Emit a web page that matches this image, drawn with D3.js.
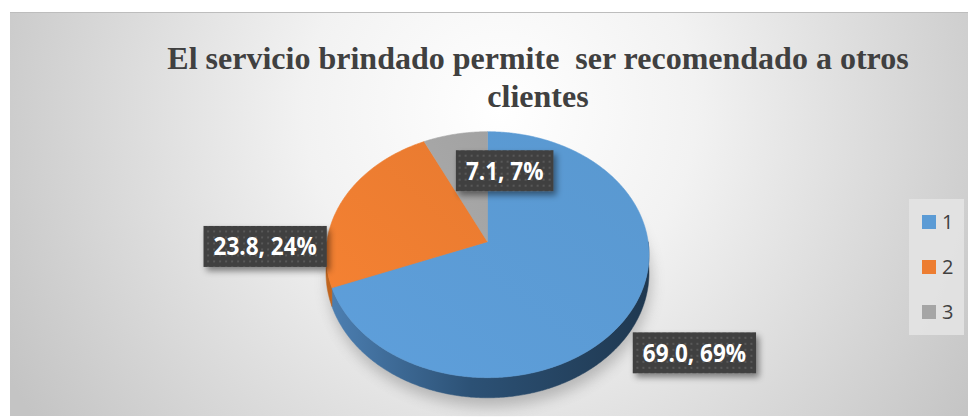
<!DOCTYPE html>
<html>
<head>
<meta charset="utf-8">
<script src="https://cdn.jsdelivr.net/npm/d3@7"></script>
<style>
  html, body { margin: 0; padding: 0; background: #fff; }
  svg { display: block; }
</style>
</head>
<body>
<svg id="chart" width="968" height="417"></svg>
<script>
// data
const categories = ['1', '2', '3'];
const values = [69.0, 23.8, 7.1];
const colors = ['#5B9BD5', '#ED7D31', '#A5A5A5'];
const titleLines = ['El servicio brindado permite  ser recomendado a otros', 'clientes'];

const W = 968, H = 417;
const svg = d3.select('#chart');
const defs = svg.append('defs');

// perspective of the 3d pie
const cx = 487.5, cy = 241.7;
const s = 160.6, se = 121.6, k = 0.1056, depth = 18;

function proj(theta, r, drop) {
    let u = r * Math.sin(theta);
    let v = -r * Math.cos(theta);
    let w = 1 - k * v;
    return [cx + s * u / w, cy + se * v / w + (drop || 0) / w];
}

// background
let bg = defs.append('radialGradient')
    .attr('id', 'bg')
    .attr('gradientUnits', 'userSpaceOnUse')
    .attr('cx', 500).attr('cy', 110).attr('r', 560);
bg.append('stop').attr('offset', '0').attr('stop-color', '#ffffff');
bg.append('stop').attr('offset', '0.35').attr('stop-color', '#f2f2f2');
bg.append('stop').attr('offset', '1').attr('stop-color', '#c4c4c4');

svg.append('rect')
    .attr('x', 10).attr('y', 12)
    .attr('width', W - 10).attr('height', 404)
    .attr('fill', 'url(#bg)');
svg.append('line')
    .attr('x1', 10).attr('x2', W).attr('y1', 12.5).attr('y2', 12.5)
    .attr('stroke', '#bdbdbd').attr('stroke-width', 1);

// filters
let blur = defs.append('filter').attr('id', 'blur')
    .attr('x', '-30%').attr('y', '-30%').attr('width', '160%').attr('height', '160%');
blur.append('feGaussianBlur').attr('stdDeviation', 7);

let shadow = defs.append('filter').attr('id', 'boxShadow')
    .attr('x', '-20%').attr('y', '-30%').attr('width', '150%').attr('height', '180%');
shadow.append('feDropShadow')
    .attr('dx', 3).attr('dy', 4).attr('stdDeviation', 3)
    .attr('flood-color', '#000').attr('flood-opacity', 0.45);

// dotted pattern for the label boxes
let pat = defs.append('pattern').attr('id', 'dots')
    .attr('patternUnits', 'userSpaceOnUse')
    .attr('width', 6).attr('height', 6);
pat.append('rect').attr('width', 6).attr('height', 6).attr('fill', '#404040');
pat.append('rect').attr('x', 2).attr('y', 2).attr('width', 2).attr('height', 2).attr('fill', '#585858');

// side gradients
let sideColors = [['#4d80b3', '#2c5175', '#1f3850'], ['#c0651f', '#9c4f17', '#7a3c10'], ['#8a8a8a', '#707070', '#5a5a5a']];
sideColors.forEach((c, i) => {
    let g = defs.append('linearGradient').attr('id', 'side' + i)
        .attr('gradientUnits', 'userSpaceOnUse')
        .attr('x1', cx - s).attr('x2', cx + s).attr('y1', 0).attr('y2', 0);
    g.append('stop').attr('offset', '0').attr('stop-color', c[0]);
    g.append('stop').attr('offset', '0.45').attr('stop-color', c[1]);
    g.append('stop').attr('offset', '1').attr('stop-color', c[2]);
});

// top gradients (subtle)
colors.forEach((c, i) => {
    let g = defs.append('linearGradient').attr('id', 'top' + i)
        .attr('x1', 0).attr('x2', 1).attr('y1', 1).attr('y2', 0);
    g.append('stop').attr('offset', '0').attr('stop-color', d3.color(c).brighter(0.08));
    g.append('stop').attr('offset', '1').attr('stop-color', d3.color(c).darker(0.06));
});

const pie = d3.pie().sort(null).startAngle(0).endAngle(2 * Math.PI);
const arcs = pie(values);
const step = Math.PI / 360;

function rimPoints(a0, a1, drop) {
    let pts = [];
    let n = Math.max(2, Math.ceil((a1 - a0) / step));
    for (let i = 0; i <= n; i++) {
        pts.push(proj(a0 + (a1 - a0) * i / n, 1, drop));
    }
    return pts;
}

const line = d3.line();

// soft shadow under the pie
let shadowPts = rimPoints(0, 2 * Math.PI, depth + 8).map(p => [p[0] + 2, p[1]]);
svg.append('path')
    .attr('d', line(shadowPts) + 'Z')
    .attr('fill', '#7a7a7a')
    .attr('opacity', 0.45)
    .attr('filter', 'url(#blur)');

// sides (front half only)
let sideGroup = svg.append('g');
arcs.forEach((a, i) => {
    let lo = Math.max(a.startAngle, Math.PI / 2);
    let hi = Math.min(a.endAngle, 3 * Math.PI / 2);
    if (hi <= lo) return;
    let top = rimPoints(lo, hi, 0);
    let bottom = rimPoints(lo, hi, depth).reverse();
    sideGroup.append('path')
        .attr('d', line(top.concat(bottom)) + 'Z')
        .attr('fill', `url(#side${i})`)
        .attr('stroke', `url(#side${i})`)
        .attr('stroke-width', 0.5);
});

// top faces
let topGroup = svg.append('g');
topGroup.selectAll('path')
    .data(arcs)
    .enter()
    .append('path')
        .attr('d', d => line([proj(0, 0)].concat(rimPoints(d.startAngle, d.endAngle, 0))) + 'Z')
        .attr('fill', (d, i) => `url(#top${i})`)
        .attr('stroke', (d, i) => colors[i])
        .attr('stroke-width', 0.6);

// data labels
const total = d3.sum(values);
// anchor from mid angle, then nudged like excel's best fit
const labelRadius = [1.3, 1.08, 0.72];
const labelNudge = [[20, 14.5], [-67.5, 51], [41, 8.5]];

let labelGroup = svg.append('g');
arcs.forEach((a, i) => {
    let mid = (a.startAngle + a.endAngle) / 2;
    let p = proj(mid, labelRadius[i], 0);
    let x = p[0] + labelNudge[i][0];
    let y = p[1] + labelNudge[i][1];
    let txt = values[i].toFixed(1) + ', ' + Math.round(values[i] / total * 100) + '%';

    let g = labelGroup.append('g').attr('transform', `translate(${x},${y})`);
    let box = g.append('rect').attr('fill', 'url(#dots)').attr('filter', 'url(#boxShadow)');
    let t = g.append('text')
        .attr('text-anchor', 'middle')
        .attr('y', 9)
        .attr('font-family', '"Open Sans", sans-serif')
        .attr('font-weight', 'bold')
        .attr('font-size', 25)
        .attr('fill', '#fff')
        .text(txt);
    let tw = t.node().getComputedTextLength() * 0.9;
    t.attr('textLength', tw).attr('lengthAdjust', 'spacingAndGlyphs');
    box.attr('x', -tw / 2 - 10).attr('y', -20.5)
        .attr('width', tw + 20).attr('height', 41);
});

// legend
let legend = svg.append('g');
legend.append('rect')
    .attr('x', 909).attr('y', 199).attr('width', 55).attr('height', 136)
    .attr('fill', '#e3e3e3').attr('opacity', 0.9);
let items = legend.selectAll('g')
    .data(categories)
    .enter()
    .append('g')
        .attr('transform', (d, i) => `translate(922,${215 + i * 45})`);
items.append('rect')
    .attr('width', 14).attr('height', 14)
    .attr('fill', (d, i) => colors[i]);
items.append('text')
    .attr('x', 20).attr('y', 14)
    .attr('font-family', '"Open Sans", sans-serif')
    .attr('font-size', 20)
    .attr('fill', '#404040')
    .text(d => d);

// title
svg.append('g').selectAll('text')
    .data(titleLines)
    .enter()
    .append('text')
        .attr('x', 538)
        .attr('y', (d, i) => 69 + i * 37.5)
        .attr('text-anchor', 'middle')
        .attr('font-family', '"Liberation Serif", "Times New Roman", serif')
        .attr('font-weight', 'bold')
        .attr('font-size', 32)
        .attr('fill', '#404040')
        .style('white-space', 'pre')
        .text(d => d);
</script>
</body>
</html>
